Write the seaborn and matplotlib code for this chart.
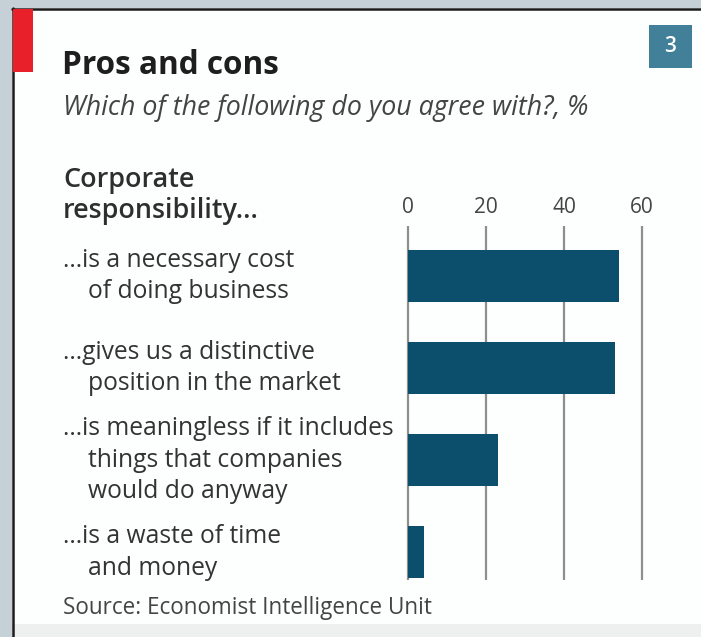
import matplotlib
matplotlib.use("Agg")
import matplotlib.pyplot as plt
from matplotlib.patches import Rectangle
from matplotlib.lines import Line2D
from matplotlib.transforms import blended_transform_factory
import seaborn as sns
import pandas as pd

# Survey responses, % agreeing
categories = [
    "...is a necessary cost\nof doing business",
    "...gives us a distinctive\nposition in the market",
    "...is meaningless if it includes\nthings that companies\nwould do anyway",
    "...is a waste of time\nand money",
]
values = [54, 53, 23, 4]
xticks = [0, 20, 40, 60]

title = "Pros and cons"
subtitle = "Which of the following do you agree with?, %"
header = "Corporate\nresponsibility..."
source = "Source: Economist Intelligence Unit"
chart_no = "3"

W, H = 701, 637
sns.set_style("white")
plt.rcParams["font.family"] = ["Open Sans", "DejaVu Sans"]

fig = plt.figure(figsize=(W / 100, H / 100), dpi=100)
fig.patch.set_facecolor("#c5d0d7")
renderer = fig.canvas.get_renderer()


def fx(px):
    return px / W


def fy(py):
    return 1 - py / H


def fit_size(text, width_px, **kw):
    """Font size at which `text` renders `width_px` pixels wide."""
    t = fig.text(0, 0, text, fontsize=10, **kw)
    w = t.get_window_extent(renderer).width
    t.remove()
    return 10 * width_px / w


# panel background and frame (behind everything)
fig.add_artist(Rectangle((fx(12), fy(637)), fx(W - 12), 13 / H, transform=fig.transFigure,
                         facecolor="#eef0f0", edgecolor="none", zorder=-10))
fig.add_artist(Rectangle((fx(12), fy(624)), fx(W - 12), 616 / H, transform=fig.transFigure,
                         facecolor="#fdfefe", edgecolor="none", zorder=-10))
fig.add_artist(Line2D([fx(12), fx(W)], [fy(8.5), fy(8.5)], transform=fig.transFigure,
                      color="#1c1c1c", lw=1.8, zorder=-5))
fig.add_artist(Line2D([fx(12.5), fx(12.5)], [fy(8), fy(H)], transform=fig.transFigure,
                      color="#1c1c1c", lw=1.8, zorder=-5))
# red tab
fig.add_artist(Rectangle((fx(13), fy(72)), fx(20), 63 / H, transform=fig.transFigure,
                         facecolor="#e8202a", edgecolor="none", zorder=-5))
# chart number box
fig.add_artist(Rectangle((fx(649), fy(68)), fx(43), 43 / H, transform=fig.transFigure,
                         facecolor="#42809a", edgecolor="none", zorder=-5))
fig.text(fx(670.5), fy(46), chart_no, color="white", fontsize=15, fontweight="semibold",
         ha="center", va="center")

# titles
fig.text(fx(62), fy(74), title, fontsize=fit_size(title, 217, fontweight="bold"),
         fontweight="bold", color="#1e1e1e", ha="left", va="baseline")
fig.text(fx(63), fy(115), subtitle, fontsize=fit_size(subtitle, 525, style="italic"),
         style="italic", color="#444444", ha="left", va="baseline")
fig.text(fx(63), fy(614), source, fontsize=fit_size(source, 370),
         color="#444444", ha="left", va="baseline")

# header over the category labels
hdr_size = fit_size("responsibility...", 195, fontweight="semibold")
for j, line in enumerate(header.split("\n")):
    fig.text(fx(63), fy(180 + 31 * j), line, fontsize=hdr_size, fontweight="semibold",
             color="#2e2e2e", ha="left", va="center")

# axes spanning x = -2..64, gridlines from 226 to 580 px
px_per_unit = 3.9
x0_px = 408
xlim = (-2, 64)
left = x0_px + xlim[0] * px_per_unit
right = x0_px + xlim[1] * px_per_unit
top_px, bot_px = 226, 580
ax = fig.add_axes([fx(left), fy(bot_px), fx(right - left), (bot_px - top_px) / H])
ax.set_facecolor("none")

df = pd.DataFrame({"category": categories, "value": values})
sns.barplot(data=df, x="value", y="category", orient="h", color="#0b4f6c",
            saturation=1, width=0.565, linewidth=0, ax=ax, zorder=3)

step = 92.0
ax.set_xlim(*xlim)
ax.set_ylim(3 + (bot_px - 552.5) / step, -(276 - top_px) / step)
ax.set_xticks(xticks)
ax.set_xticklabels([str(t) for t in xticks], fontsize=15, color="#444444")
ax.xaxis.tick_top()
ax.tick_params(axis="x", length=0, pad=6)
ax.set_yticks([])
ax.set_xlabel("")
ax.set_ylabel("")
for s in ax.spines.values():
    s.set_visible(False)
ax.xaxis.grid(True, color="#8e8e8e", lw=1.6, zorder=1)
ax.set_axisbelow(True)

# category labels, continuation lines indented
lab_size = fit_size("...is meaningless if it includes", 332)
trans = blended_transform_factory(fig.transFigure, ax.transData)
line_gap = 31.5 / step
for i, lab in enumerate(categories):
    lines = lab.split("\n")
    n = len(lines)
    for j, line in enumerate(lines):
        y = i + (j - (n - 1) / 2) * line_gap
        x = fx(63) if j == 0 else fx(88)
        ax.text(x, y, line, transform=trans, fontsize=lab_size, color="#333333",
                ha="left", va="center", clip_on=False)

fig.savefig("out.png", dpi=100, facecolor=fig.get_facecolor())
